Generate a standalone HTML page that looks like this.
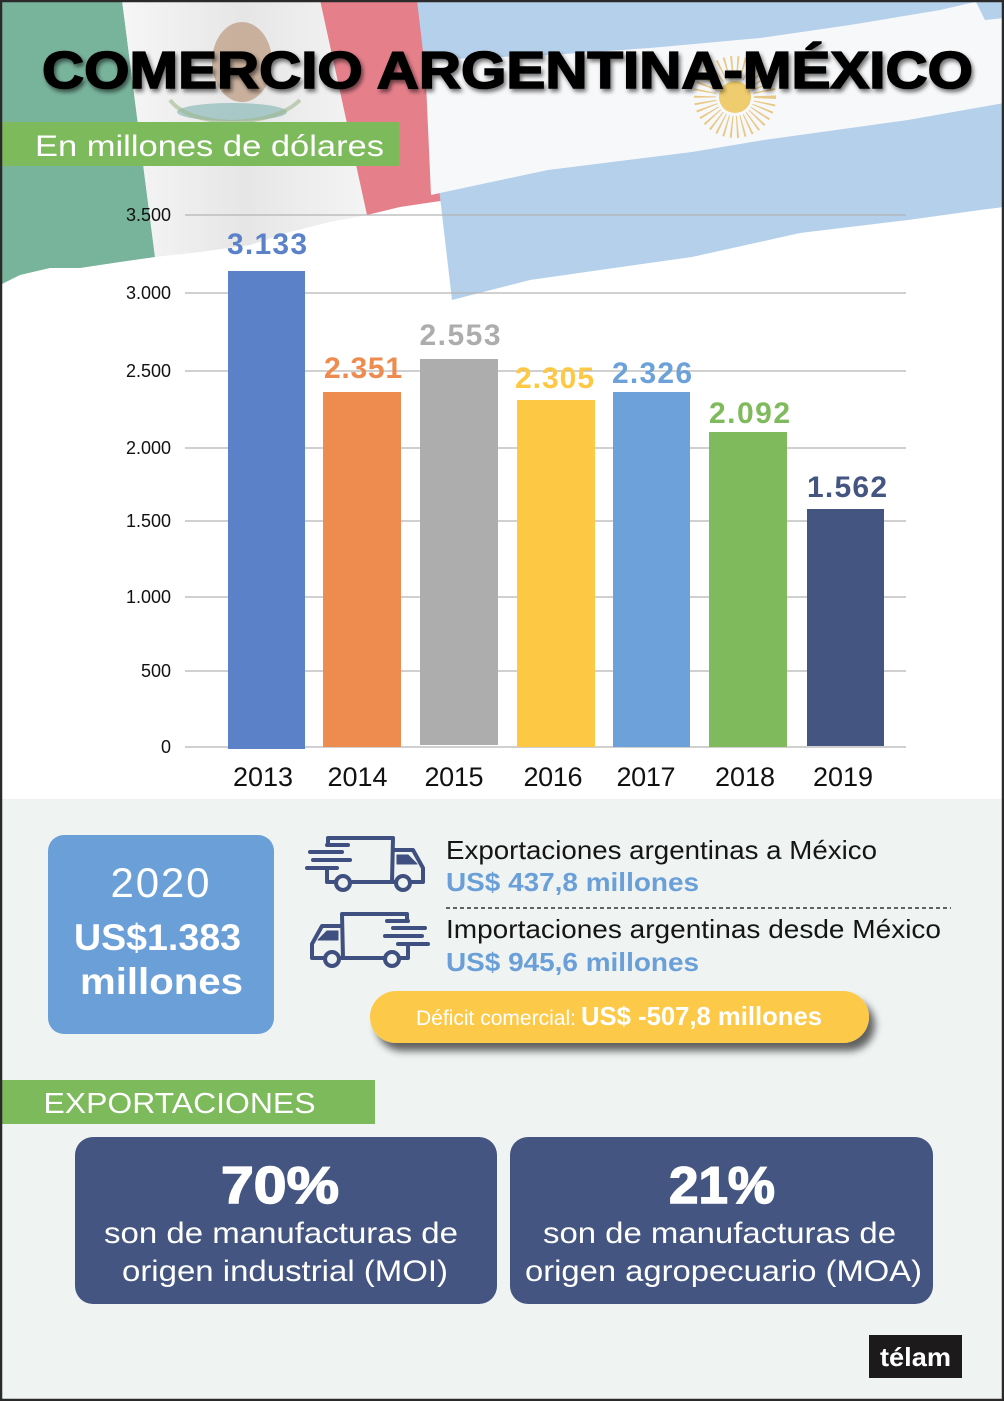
<!DOCTYPE html>
<html><head><meta charset="utf-8"><style>
html,body{margin:0;padding:0;background:#fff;}
svg{display:block;}
text{font-family:"Liberation Sans",Arial,sans-serif;}
</style></head><body>
<svg width="1004" height="1401" viewBox="0 0 1004 1401" xmlns="http://www.w3.org/2000/svg">
<defs>
<filter id="tsh" x="-5%" y="-20%" width="110%" height="160%">
<feGaussianBlur in="SourceAlpha" stdDeviation="2"/>
<feOffset dx="2" dy="3" result="o"/>
<feComponentTransfer><feFuncA type="linear" slope="0.55"/></feComponentTransfer>
<feMerge><feMergeNode/><feMergeNode in="SourceGraphic"/></feMerge>
</filter>
<filter id="psh" x="-10%" y="-30%" width="125%" height="190%">
<feGaussianBlur in="SourceAlpha" stdDeviation="4"/>
<feOffset dx="6" dy="8" result="o"/>
<feComponentTransfer><feFuncA type="linear" slope="0.6"/></feComponentTransfer>
<feMerge><feMergeNode/><feMergeNode in="SourceGraphic"/></feMerge>
</filter>
<linearGradient id="wsh" x1="0" y1="0" x2="1" y2="0">
<stop offset="0" stop-color="#f6f6f6"/><stop offset="0.5" stop-color="#e6e6e6"/><stop offset="1" stop-color="#f4f4f4"/>
</linearGradient>
</defs>
<rect x="0" y="0" width="1004" height="1401" fill="#ffffff"/>
<rect x="0" y="799" width="1004" height="602" fill="#eff3f2"/>

<!-- Mexican flag -->
<polygon points="0,0 122,0 155,257 120,262 80,268 50,268 20,275 0,285" fill="#78b39c"/>
<polygon points="122,0 320,0 367,215 330,222 290,232 250,245 200,252 155,257" fill="url(#wsh)"/>
<polygon points="320,0 417,0 447,200 400,207 367,215" fill="#e5808b"/>
<!-- emblem -->
<ellipse cx="242" cy="62" rx="30" ry="40" fill="#b48c6c" opacity="0.6"/>
<ellipse cx="232" cy="112" rx="55" ry="9" fill="#7fb2b2" opacity="0.6"/>
<path d="M170,100 Q185,120 232,122 Q280,120 300,100" fill="none" stroke="#9fb88c" stroke-width="4" opacity="0.6"/>

<!-- Argentine flag -->
<polygon points="417,0 1004,0 1004,207 980,210 908,220 800,233 692,257 600,270 530,280 452,300" fill="#b5d0ea"/>
<polygon points="425,60 550,55 650,48 760,38 850,25 940,10 975,2 1004,0 1004,103 908,120 764,140 692,152 548,170 440,193 431,195" fill="#f7f8fa"/>
<polygon points="975,0 1004,0 1004,18 985,20" fill="#b5d0ea"/>
<g transform="translate(735,97)" fill="none" stroke="#e3bb6a" stroke-width="2">
<circle r="30" stroke-dasharray="1.5 4" stroke-width="22" opacity="0.8"/>
</g>
<circle cx="735" cy="97" r="16" fill="#efcc6e"/>

<!-- Title -->
<text x="42" y="88" font-size="52" font-weight="bold" fill="#000" stroke="#000" stroke-width="1.6" textLength="931" lengthAdjust="spacingAndGlyphs" filter="url(#tsh)">COMERCIO ARGENTINA-MÉXICO</text>

<!-- subtitle -->
<rect x="0" y="122" width="399" height="44" fill="#7dba5b"/>
<text x="35" y="156" font-size="30" fill="#fff" textLength="349" lengthAdjust="spacingAndGlyphs">En millones de dólares</text>

<!-- gridlines -->
<g stroke="#b4b4b4" stroke-width="1.3">
<line x1="185" y1="215" x2="906" y2="215"/>
<line x1="185" y1="293" x2="906" y2="293"/>
<line x1="185" y1="371" x2="906" y2="371"/>
<line x1="185" y1="448" x2="906" y2="448"/>
<line x1="185" y1="521" x2="906" y2="521"/>
<line x1="185" y1="597" x2="906" y2="597"/>
<line x1="185" y1="671" x2="906" y2="671"/>
<line x1="185" y1="747" x2="906" y2="747"/>
</g>
<g font-size="18" fill="#111" text-anchor="end">
<text x="171" y="221">3.500</text>
<text x="171" y="299">3.000</text>
<text x="171" y="377">2.500</text>
<text x="171" y="454">2.000</text>
<text x="171" y="527">1.500</text>
<text x="171" y="603">1.000</text>
<text x="171" y="677">500</text>
<text x="171" y="753">0</text>
</g>

<!-- bars -->
<rect x="228" y="271" width="77" height="478" fill="#5b82c9"/>
<rect x="323" y="392" width="78" height="355" fill="#ee8b4f"/>
<rect x="420" y="359" width="78" height="386" fill="#adadad"/>
<rect x="517" y="400" width="78" height="347" fill="#fdc843"/>
<rect x="613" y="392" width="77" height="355" fill="#6ca1d9"/>
<rect x="709" y="432" width="78" height="315" fill="#7fba5c"/>
<rect x="807" y="509" width="77" height="237" fill="#435580"/>

<g font-size="30" font-weight="bold" text-anchor="middle" lengthAdjust="spacingAndGlyphs">
<text x="267" y="254" fill="#5b82c9" textLength="80">3.133</text>
<text x="363" y="378" fill="#ee8b4f" textLength="78">2.351</text>
<text x="460" y="345" fill="#adadad" textLength="81">2.553</text>
<text x="554.5" y="388" fill="#fdc843" textLength="79">2.305</text>
<text x="652" y="383" fill="#6ca1d9" textLength="80">2.326</text>
<text x="749.5" y="423" fill="#7fba5c" textLength="81">2.092</text>
<text x="847" y="497" fill="#435580" textLength="80">1.562</text>
</g>

<g font-size="27" fill="#111" text-anchor="middle">
<text x="263" y="786" textLength="60">2013</text>
<text x="357.5" y="786" textLength="60">2014</text>
<text x="454" y="786" textLength="59">2015</text>
<text x="553" y="786" textLength="59">2016</text>
<text x="646" y="786" textLength="59">2017</text>
<text x="745" y="786" textLength="60">2018</text>
<text x="843" y="786" textLength="60">2019</text>
</g>

<!-- 2020 box -->
<rect x="48" y="835" width="226" height="199" rx="16" fill="#6a9fd8"/>
<text x="160" y="897" font-size="42" fill="#fff" text-anchor="middle" textLength="99">2020</text>
<text x="157.5" y="950" font-size="37" font-weight="bold" fill="#fff" text-anchor="middle" textLength="167" lengthAdjust="spacingAndGlyphs">US$1.383</text>
<text x="161.5" y="994" font-size="37" font-weight="bold" fill="#fff" text-anchor="middle" textLength="163" lengthAdjust="spacingAndGlyphs">millones</text>

<!-- trucks -->
<g fill="none" stroke="#3f5080" stroke-width="4" stroke-linecap="round" stroke-linejoin="round">
<path d="M328,845 L328,838 L393,838 L392,882 L350,882 M336,882 L327,882 L327,868"/>
<path d="M393,850 L413,850 L423,868 L423,882 L410,882 M396,882 L392,882"/>
<circle cx="343" cy="883" r="7"/>
<circle cx="403" cy="883" r="7"/>
<line x1="327" y1="845" x2="348" y2="845"/>
<line x1="310" y1="852" x2="342" y2="852"/>
<line x1="313" y1="860" x2="350" y2="860"/>
<line x1="307" y1="868" x2="337" y2="868"/>
<polygon points="397,855 408,855 417,864 397,864" fill="#3f5080" stroke-width="1"/>
</g>
<g transform="translate(735,76) scale(-1,1)" fill="none" stroke="#3f5080" stroke-width="4" stroke-linecap="round" stroke-linejoin="round">
<path d="M328,845 L328,838 L393,838 L392,882 L350,882 M336,882 L327,882 L327,868"/>
<path d="M393,850 L413,850 L423,868 L423,882 L410,882 M396,882 L392,882"/>
<circle cx="343" cy="883" r="7"/>
<circle cx="403" cy="883" r="7"/>
<line x1="327" y1="845" x2="348" y2="845"/>
<line x1="310" y1="852" x2="342" y2="852"/>
<line x1="313" y1="860" x2="350" y2="860"/>
<line x1="307" y1="868" x2="337" y2="868"/>
<polygon points="397,855 408,855 417,864 397,864" fill="#3f5080" stroke-width="1"/>
</g>

<text x="446" y="859" font-size="26" fill="#151515" textLength="431" lengthAdjust="spacingAndGlyphs">Exportaciones argentinas a México</text>
<text x="446" y="891" font-size="26" font-weight="bold" fill="#6a9fd8" textLength="253" lengthAdjust="spacingAndGlyphs">US$ 437,8 millones</text>
<line x1="446" y1="908" x2="951" y2="908" stroke="#333" stroke-width="1.5" stroke-dasharray="4 3"/>
<text x="446" y="938" font-size="26" fill="#151515" textLength="495" lengthAdjust="spacingAndGlyphs">Importaciones argentinas desde México</text>
<text x="446" y="971" font-size="26" font-weight="bold" fill="#6a9fd8" textLength="253" lengthAdjust="spacingAndGlyphs">US$ 945,6 millones</text>

<!-- deficit pill -->
<rect x="370" y="991" width="499" height="52" rx="26" fill="#fdc94a" filter="url(#psh)"/>
<text x="416" y="1025" font-size="21" fill="#fff" textLength="160" lengthAdjust="spacingAndGlyphs">Déficit comercial:</text>
<text x="581" y="1025" font-size="26" font-weight="bold" fill="#fff" textLength="241" lengthAdjust="spacingAndGlyphs">US$ -507,8 millones</text>

<!-- EXPORTACIONES -->
<rect x="0" y="1080" width="375" height="44" fill="#7dba5b"/>
<text x="43.5" y="1113" font-size="29" fill="#fff" textLength="272" lengthAdjust="spacingAndGlyphs">EXPORTACIONES</text>

<rect x="75" y="1137" width="422" height="167" rx="18" fill="#435580"/>
<rect x="510" y="1137" width="423" height="167" rx="18" fill="#435580"/>
<g fill="#fff" text-anchor="middle">
<text x="280" y="1203" font-size="52" font-weight="bold" stroke="#fff" stroke-width="1.5" textLength="118" lengthAdjust="spacingAndGlyphs">70%</text>
<text x="281" y="1243" font-size="30" textLength="354" lengthAdjust="spacingAndGlyphs">son de manufacturas de</text>
<text x="285" y="1281" font-size="30" textLength="326" lengthAdjust="spacingAndGlyphs">origen industrial (MOI)</text>
<text x="722" y="1203" font-size="52" font-weight="bold" stroke="#fff" stroke-width="1.5" textLength="106" lengthAdjust="spacingAndGlyphs">21%</text>
<text x="719.5" y="1243" font-size="30" textLength="353" lengthAdjust="spacingAndGlyphs">son de manufacturas de</text>
<text x="723.5" y="1281" font-size="30" textLength="397" lengthAdjust="spacingAndGlyphs">origen agropecuario (MOA)</text>
</g>

<!-- telam -->
<rect x="869" y="1335" width="93" height="43" fill="#1c1a1a"/>
<text x="915.5" y="1366" font-size="26" font-weight="bold" fill="#fff" text-anchor="middle" textLength="71" lengthAdjust="spacingAndGlyphs">télam</text>

<!-- border -->
<rect x="1" y="1" width="1002" height="1399" fill="none" stroke="#2a2a2a" stroke-width="2.5"/>
</svg>
</body></html>
